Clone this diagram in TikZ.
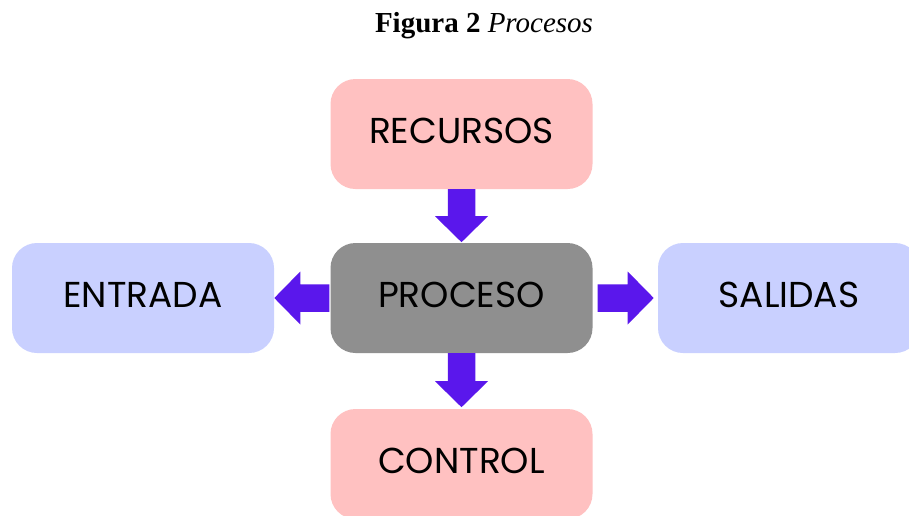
\documentclass[tikz,border=0pt]{standalone}
\usepackage{fontspec}
\setmainfont{Liberation Serif}
\newfontfamily\boxfont{Poppins}
\usetikzlibrary{calc}

\definecolor{boxpink}{HTML}{FFC1C1}
\definecolor{boxblue}{HTML}{C9D0FF}
\definecolor{boxgray}{HTML}{8F8F8F}
\definecolor{arrowpurple}{HTML}{5A17EC}

% thick block arrow: start point, direction angle, length
\newcommand\blockarrow[3]{%
  \begin{scope}[shift={#1}, rotate=#2]
    \fill[arrowpurple] (0,-13.75) -- ({#3-26},-13.75) -- ({#3-26},-26.5)
      -- (#3,0) -- ({#3-26},26.5) -- ({#3-26},13.75) -- (0,13.75) -- cycle;
  \end{scope}}

\tikzset{
  stagebox/.style={rectangle, rounded corners=25pt, minimum width=262pt,
    minimum height=110pt, inner sep=0pt, draw=none},
  stagetext/.style={font=\boxfont\fontsize{36}{40}\selectfont, text=black}
}

\begin{document}
\begin{tikzpicture}[x=1pt, y=-1pt]
  \useasboundingbox (0,0) rectangle (909,515);
  \fill[white] (0,0) rectangle (909,515);
  \clip (0,0) rectangle (909,515);

  \node[anchor=base, font=\fontsize{29}{33}\selectfont] (title) at (484,32)
    {\textbf{Figura 2} \textit{Procesos}};

  \node[stagebox, fill=boxpink] (rec) at (461.5,134) {};
  \node[stagebox, fill=boxgray] (pro) at (461.5,298) {};
  \node[stagebox, fill=boxpink] (con) at (461.5,464) {};
  \node[stagebox, fill=boxblue] (ent) at (143,298) {};
  \node[stagebox, fill=boxblue] (sal) at (789,298) {};

  \node[stagetext] (recl) at ($(rec.center)+(0,-3)$) {RECURSOS};
  \node[stagetext] (prol) at ($(pro.center)+(0,-3)$) {PROCESO};
  \node[stagetext] (conl) at ($(con.center)+(0,-3)$) {CONTROL};
  \node[stagetext] (entl) at ($(ent.center)+(0,-3)$) {ENTRADA};
  \node[stagetext] (sall) at ($(sal.center)+(0,-3)$) {SALIDAS};

  \blockarrow{(rec.south)}{-90}{53}
  \blockarrow{(pro.south)}{-90}{54}
  \blockarrow{($(pro.west)+(-1,0)$)}{180}{55}
  \blockarrow{($(pro.east)+(5,0)$)}{0}{56}
\end{tikzpicture}
\end{document}
